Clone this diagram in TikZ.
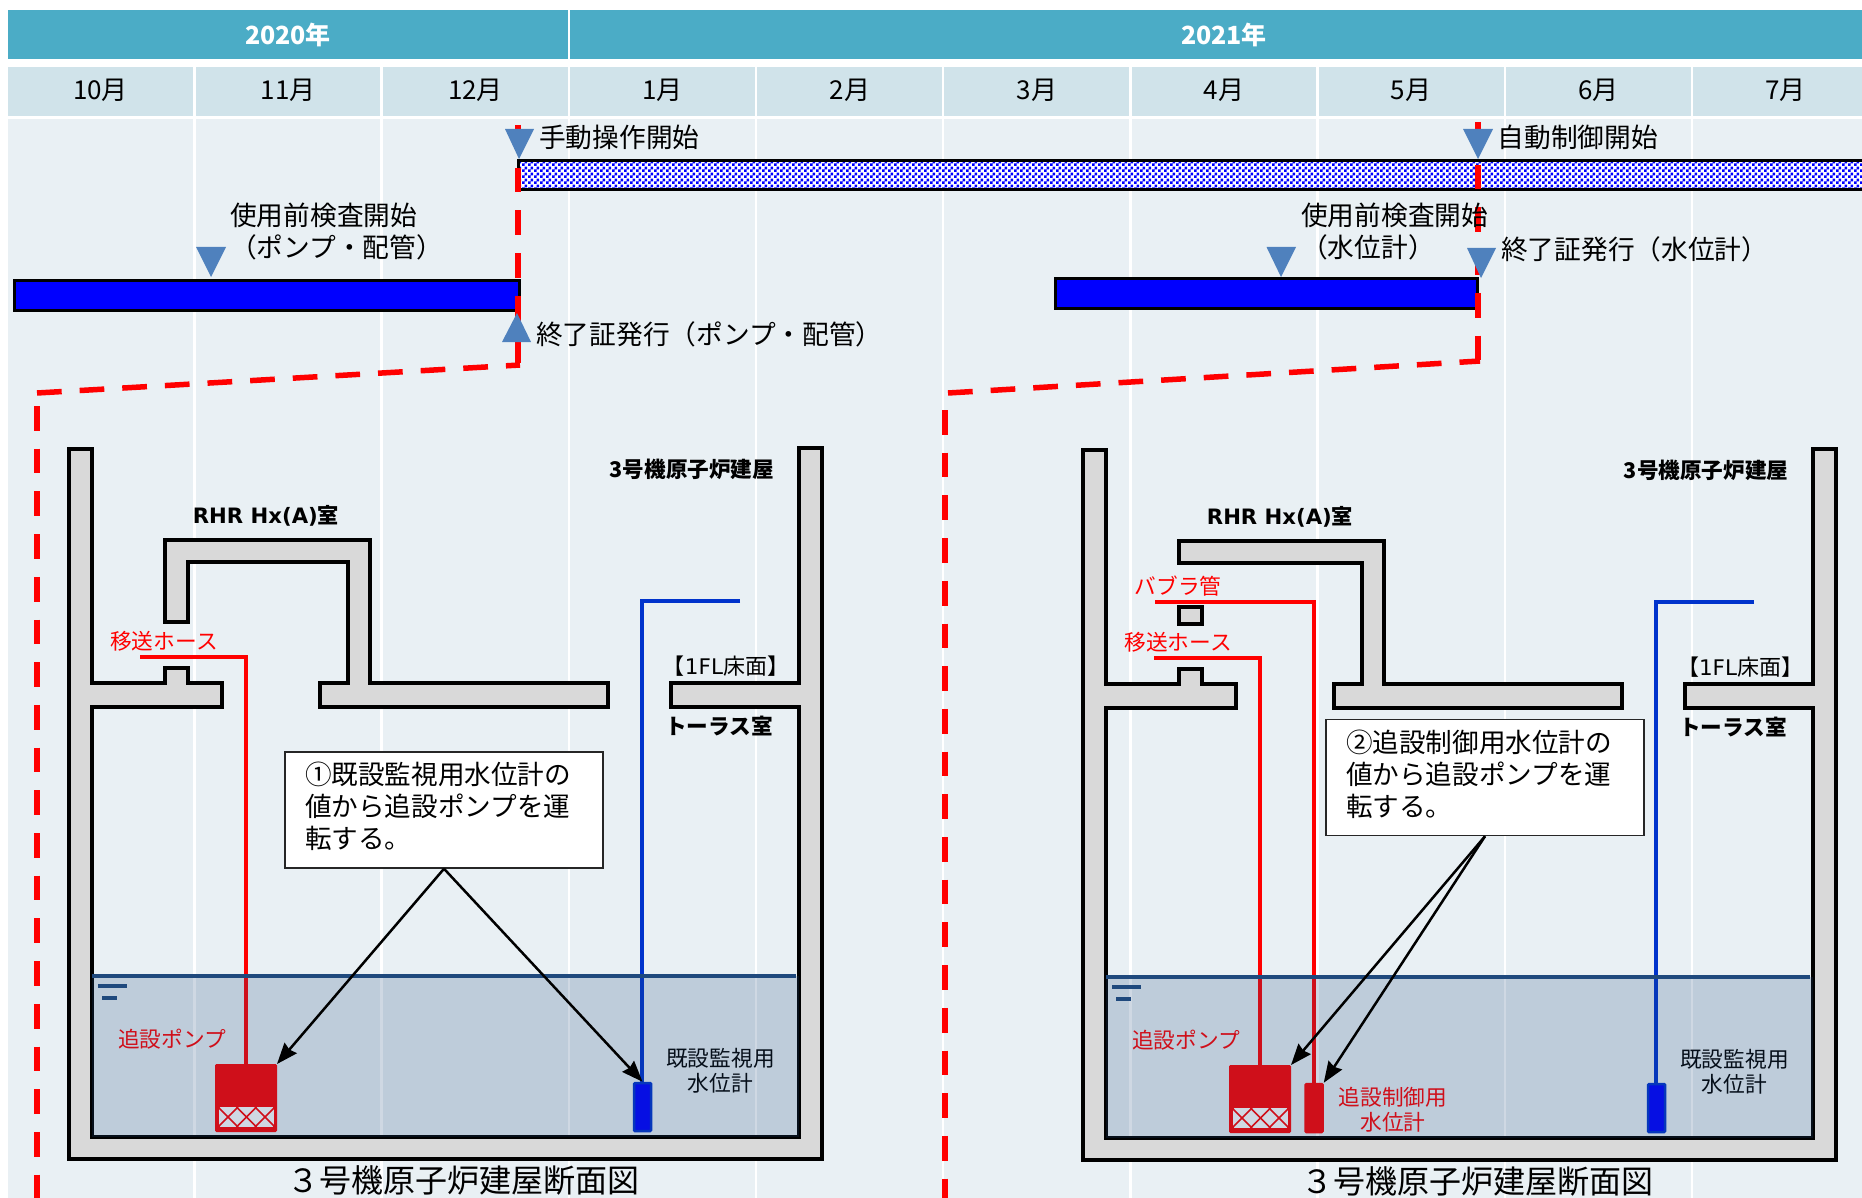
\documentclass[tikz,border=0pt]{standalone}
\usepackage{fontspec}
\usetikzlibrary{arrows.meta,patterns}
\newfontfamily\jp{Noto Sans CJK JP}
\newfontfamily\dv{DejaVu Sans}
\newcommand{\jpb}{\jp\bfseries}
\newcommand{\dvb}{\dv\bfseries}
\newcommand{\fs}[2]{\fontsize{#1}{#2}\selectfont}
\definecolor{yearband}{HTML}{4BACC6}
\definecolor{monthband}{HTML}{D0E3EA}
\definecolor{bodyband}{HTML}{E9F0F4}
\definecolor{wallgray}{HTML}{D9D9D9}
\definecolor{waterc}{HTML}{1F497D}
\definecolor{tri}{HTML}{4F81BD}
\definecolor{bluepipe}{HTML}{0033CC}
\pgfdeclarepatternformonly{chk}{\pgfqpoint{0pt}{0pt}}{\pgfqpoint{6pt}{6pt}}{\pgfqpoint{6pt}{6pt}}{%
  \pgfpathrectangle{\pgfqpoint{0pt}{0pt}}{\pgfqpoint{3pt}{3pt}}%
  \pgfpathrectangle{\pgfqpoint{3pt}{3pt}}{\pgfqpoint{3pt}{3pt}}%
  \pgfusepath{fill}}
\tikzset{
  txt/.style={inner sep=0pt,font=\jp\fs{26.7}{32},text=black},
  mon/.style={inner sep=0pt,font=\jp\fs{26}{30},text=black},
  yr/.style={inner sep=0pt,font=\jpb\fs{25}{30},text=white},
  small/.style={inner sep=0pt,font=\jp\fs{21.7}{25},text=black,align=center},
  redsmall/.style={small,text=red},
  boldl/.style={inner sep=0pt,font=\jpb\fs{21.6}{26},text=black},
  wall/.style={fill=wallgray,draw=black,line width=4pt,line join=miter},
  ganttbar/.style={fill=blue,draw=black,line width=3pt},
  marker/.style={fill=tri,draw=none},
  reddash/.style={draw=red,line width=5.5pt,dash pattern=on 24.7pt off 18pt},
  redpipe/.style={draw=red,line width=4pt,line join=miter},
  bluepipel/.style={draw=bluepipe,line width=4pt,line join=miter},
  pumpbox/.style={fill=red,draw=red,line width=1pt,rounded corners=1pt,inner sep=0pt,minimum width=61pt,minimum height=67pt},
  sensorbox/.style={line width=2.5pt,rounded corners=1pt,inner sep=0pt,minimum width=17pt,minimum height=48pt},
  notebox/.style={fill=white,draw=black!85,line width=1.5pt,inner xsep=20pt,inner ysep=0pt,minimum width=318pt,minimum height=116pt,align=left,text width=278pt,font=\jp\fs{26.6}{32},text=black},
  arrowl/.style={draw=black,line width=2.5pt,-{Stealth[length=21pt,width=16pt,inset=2pt]}},
  caption/.style={inner sep=0pt,font=\jp\fs{32}{36},text=black},
}
% a note's three lines sit slightly above the middle of its box
\newcommand{\notetext}[1]{\parbox{278pt}{#1}\rule[-45pt]{0pt}{1pt}}
% parts shared by both sections (local coordinates of the left panel)
\newcommand{\outerwall}{%
  \draw[wall] (69,449) -- (92,449) -- (92,683) -- (165,683) -- (165,668) -- (188,668) -- (188,683) -- (222,683) -- (222,707) -- (92,707) -- (92,1137) -- (799,1137) -- (799,707) -- (671,707) -- (671,683) -- (799,683) -- (799,448) -- (822,448) -- (822,1159) -- (69,1159) -- cycle;
}
\newcommand{\pumpparts}{%
  \draw[redpipe] (140,657) -- (246,657) -- (246,1064);
  \draw[bluepipel] (740,601) -- (642,601) -- (642,1082);
  \node[pumpbox] (pump) at (246,1098) {};
  \fill[white] (219,1107) rectangle (274,1127);
  \begin{scope}
    \clip (219,1107) rectangle (274,1127);
    \foreach \c in {-1,...,4} {
      \draw[red,line width=1.6pt] ({218+\c*18.5},1107) -- ({238+\c*18.5},1127);
      \draw[red,line width=1.6pt] ({238+\c*18.5},1107) -- ({218+\c*18.5},1127);
    }
  \end{scope}
  \node[sensorbox,draw=bluepipe,fill=blue] (meter) at (642.5,1107) {};
  \node[redsmall] (pumplabel) at (172,1039.5) {追設ポンプ};
  \node[redsmall] (hoselabel) at (164,641) {移送ホース};
  \node[small] (meterlabel) at (720.5,1071) {既設監視用\\水位計};
}
\newcommand{\waterparts}{%
  \fill[waterc,fill opacity=0.21] (92,976) rectangle (799,1137);
  \draw[waterc,line width=3.5pt] (92,976) -- (796,976);
  \draw[waterc,line width=3.5pt] (98,986) -- (127,986);
  \draw[waterc,line width=3.5pt] (102,998) -- (117,998);
}
\newcommand{\panellabels}{%
  \node[inner sep=0pt,text=black] (rhr) at (266,516) {{\dvb\fs{21.2}{26}RHR Hx(A)}{\jpb\fs{21.2}{26}室}};
  \node[boldl] (bldg) at (692,469.5) {3号機原子炉建屋};
  \node[boldl] (torus) at (719,726) {トーラス室};
  \node[inner sep=0pt,text=black] (floor) at (726,666) {{\jp\fs{22}{24}【}{\dv\fs{21.5}{24}1FL}{\jp\fs{22}{24}床面】}};
  \node[caption] (cap) at (463.5,1180) {３号機原子炉建屋断面図};
}
\begin{document}
\begin{tikzpicture}[x=1pt,y=-1pt]
\clip (0,0) rectangle (1862,1198);
\fill[white] (0,0) rectangle (1862,1198);
% table background
\fill[yearband] (8,10) rectangle (1862,59);
\fill[monthband] (8,67) rectangle (1862,116);
\fill[bodyband] (8,119) rectangle (1862,1198);
\draw[white,line width=2.5pt] (569,8) -- (569,60);
\foreach \x in {194.5,381.7,569,756,943,1130.5,1317.5,1505,1692} {
  \draw[white,line width=2.5pt] (\x,66) -- (\x,1198);
}
\node[yr] (y2020) at (288,35) {2020年};
\node[yr] (y2021) at (1224,35) {2021年};
\foreach \m/\x/\n in {10月/100.5/m10,11月/288/m11,12月/475.5/m12,1月/662.5/m1,2月/850/m2,3月/1037/m3,4月/1224/m4,5月/1411/m5,6月/1598.5/m6,7月/1785.5/m7} {
  \node[mon] (\n) at (\x,90.5) {\m};
}
% section on the left
\begin{scope}[name prefix=L-]
  \outerwall
  \draw[wall] (165,540) -- (370,540) -- (370,683) -- (608,683) -- (608,707) -- (320,707) -- (320,683) -- (348,683) -- (348,562) -- (188,562) -- (188,622) -- (165,622) -- cycle;
  \pumpparts
  \waterparts
  \panellabels
  \node[notebox] (note) at (444,810) {\notetext{①既設監視用水位計の\\値から追設ポンプを運\\転する。}};
  \draw[arrowl] (note.south) -- (pump.north east);
  \draw[arrowl] (note.south) -- (meter.north);
\end{scope}
% section on the right
\begin{scope}[shift={(1014,1)},name prefix=R-]
  \outerwall
  \draw[wall] (165,540) -- (370,540) -- (370,683) -- (608,683) -- (608,707) -- (320,707) -- (320,683) -- (348,683) -- (348,562) -- (165,562) -- cycle;
  \draw[wall] (165,606) rectangle (188,623);
  \draw[redpipe] (141,601) -- (299.5,601) -- (299.5,1082);
  \node[sensorbox,draw=red,fill=red] (ctrl) at (300,1107) {};
  \node[redsmall] (bubbler) at (164,585) {バブラ管};
  \node[redsmall] (ctrllabel) at (379,1108.5) {追設制御用\\水位計};
  \pumpparts
  \waterparts
  \panellabels
  \node[notebox] (note) at (471,776.5) {\notetext{②追設制御用水位計の\\値から追設ポンプを運\\転する。}};
  \draw[arrowl] (note.south) -- (pump.north east);
  \draw[arrowl] (note.south) -- (ctrl.north east);
\end{scope}
% schedule bars
\fill[white] (518,160) rectangle (1880,191);
\fill[pattern=chk,pattern color=blue] (518,160) rectangle (1880,191);
\draw[black,line width=3pt] (518,161) rectangle (1880,190);
\node[ganttbar,minimum width=505pt,minimum height=30pt,inner sep=0pt,anchor=north west] (barA) at (12.5,279) {};
\node[ganttbar,minimum width=422pt,minimum height=30pt,inner sep=0pt,anchor=north west] (barB) at (1054,277) {};
% red dashed leaders
\coordinate (ltop) at (518,125);
\coordinate (lcor) at (520,365);
\coordinate (lfar) at (37,393);
\coordinate (lfarb) at (37,406);
\coordinate (lend) at (37,1198);
\coordinate (rtop) at (1478,122);
\coordinate (rcor) at (1480,361);
\coordinate (rfar) at (948,393);
\coordinate (rfarb) at (945,410);
\coordinate (rend) at (945,1198);
\draw[reddash] (ltop) -- (518,365);
\draw[reddash] (lfar) -- (lcor);
\draw[reddash] (lfarb) -- (lend);
\draw[reddash] (rtop) -- (1478,361);
\draw[reddash] (rfar) -- (rcor);
\draw[reddash] (rfarb) -- (rend);
% markers
\fill[marker] (505,129) -- (534,129) -- (519,159) -- cycle;
\fill[marker] (196,247) -- (226,247) -- (211,277) -- cycle;
\fill[marker] (502,342) -- (531,342) -- (517,313) -- cycle;
\fill[marker] (1463,129) -- (1493,129) -- (1478,159) -- cycle;
\fill[marker] (1266.5,247) -- (1296,247) -- (1281,277) -- cycle;
\fill[marker] (1467,248) -- (1496,248) -- (1481,278) -- cycle;
% schedule labels
\node[txt,anchor=west] (t1) at (539,137) {手動操作開始};
\node[txt,anchor=west] (t2) at (1497.5,137) {自動制御開始};
\node[txt,anchor=west,align=left] (t3) at (230,231.5) {使用前検査開始\\（ポンプ・配管）};
\node[txt,anchor=west] (t4) at (536,334.5) {終了証発行（ポンプ・配管）};
\node[txt,anchor=west,align=left] (t5) at (1301,231.5) {使用前検査開始\\（水位計）};
\node[txt,anchor=west] (t6) at (1501,249.5) {終了証発行（水位計）};
\end{tikzpicture}
\end{document}
